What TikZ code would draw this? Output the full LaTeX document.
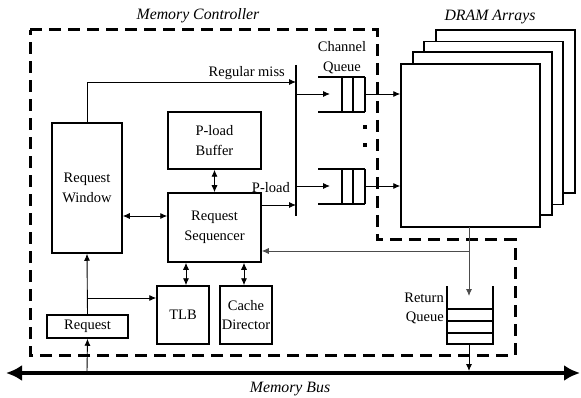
\documentclass[tikz,border=0pt]{standalone}
\usepackage{fontspec}
\setmainfont{Liberation Serif}
\usetikzlibrary{arrows.meta}
\begin{document}
\begin{tikzpicture}[x=1pt,y=-1pt,
  txt/.style={inner sep=0pt,font=\fontsize{14.5}{19.5}\selectfont},
  ttl/.style={inner sep=0pt,font=\fontsize{15.8}{19}\selectfont\itshape},
  box/.style={draw,line width=1.5pt,inner sep=0pt,align=center,font=\fontsize{14.5}{19.5}\selectfont},
  shape line/.style={line width=1.5pt},
  conn/.style={line width=0.9pt,-{Latex[length=7pt,width=6pt]}},
  dconn/.style={line width=0.9pt,{Latex[length=7pt,width=6pt]}-{Latex[length=7pt,width=6pt]}},
  graypath/.style={line width=0.9pt,draw=black!70},
  border/.style={line width=3pt,dash pattern=on 12pt off 7pt},
  bus/.style={line width=4pt,{Latex[length=16pt,width=16pt]}-{Latex[length=16pt,width=16pt]}},
  dram/.style={draw,line width=1.5pt,fill=white,minimum width=139pt,minimum height=163pt,inner sep=0pt},
]
\useasboundingbox (0,0) rectangle (581,398);

% controller outline
\draw[border] (30,30) -- (377,30) -- (377,240) -- (515,240) -- (515,355) -- (30,355) -- cycle;
\node[ttl] (mctitle) at (198,16) {Memory Controller};

% DRAM arrays, back to front
\node[ttl] (dramtitle) at (490,17) {DRAM Arrays};
\node[dram] (dram4) at (505.5,111.5) {};
\node[dram] (dram3) at (493.5,123) {};
\node[dram] (dram2) at (482.5,133.5) {};
\node[dram] (dram1) at (470.5,145.5) {};

% controller blocks
\node[box,minimum width=70pt,minimum height=130pt] (win) at (87,188) {Request\\Window};
\node[box,minimum width=93pt,minimum height=57pt] (pbuf) at (214.5,140.5) {P-load\\Buffer};
\node[box,minimum width=93pt,minimum height=69pt] (seq) at (214.5,227.5) {Request\\Sequencer};
\node[box,minimum width=52pt,minimum height=58pt] (tlb) at (183,315) {TLB};
\node[box,minimum width=52pt,minimum height=58pt] (cache) at (246,315) {Cache\\Director};
\node[box,minimum width=81pt,minimum height=23pt] (req) at (87.5,326.5) {Request};

% selector bar
\coordinate (bartop) at (296,65);
\coordinate (barbot) at (296,216);
\draw[shape line] (bartop) -- (barbot);

% channel queues
\foreach \y/\n in {77/q1,169/q2}{
  \draw[shape line] (318,\y) -- (365,\y) (318,\y+35) -- (365,\y+35)
    (342,\y) -- (342,\y+35) (353,\y) -- (353,\y+35) (365,\y) -- (365,\y+35);
  \coordinate (\n in) at (330,\y+17);
  \coordinate (\n out) at (365,\y+17);
  \coordinate (\n bar) at (296,\y+17);
}
\draw[conn] (q1bar) -- (q1in);
\draw[conn] (q2bar) -- (q2in);
\draw[conn] (q1out) -- (dram1.west |- q1out);
\draw[conn] (q2out) -- (dram1.west |- q2out);
\fill (363,125) rectangle (367,129);
\fill (363,143) rectangle (367,147);
\node[txt,align=center] (cqlabel) at (342,57.5) {Channel\\Queue};

% return queue
\draw[shape line] (447,286) -- (447,344) -- (493,344) -- (493,286)
  (447,309) -- (493,309) (447,321) -- (493,321) (447,333) -- (493,333);
\coordinate (rqtop) at (469,296);
\coordinate (rqbot) at (469,344);
\node[txt,align=right,anchor=east] (rqlabel) at (444,308.5) {Return\\Queue};

% memory bus
\coordinate (busl) at (6,373);
\coordinate (busr) at (580,373);
\draw[bus] (busl) -- (busr);
\node[ttl] (buslabel) at (290,389) {Memory Bus};

% connections
\coordinate (rmturn) at (87,82);
\coordinate (rmend) at (296,82);
\draw[conn] (win.north) -- (rmturn) -- (rmend);
\node[txt,anchor=east] (rmlabel) at (285,73) {Regular miss};
\coordinate (plend) at (296,205);
\draw[conn] (seq.east |- plend) -- (plend);
\node[txt,anchor=east] (pllabel) at (290,188) {P-load};

\draw[dconn] (pbuf.south) -- (seq.north);
\draw[dconn] (win.east |- 0,216) -- (seq.west |- 0,216);
\draw[dconn] (seq.south -| tlb.north) ++(3,0) coordinate (a1) (a1) -- (a1 |- tlb.north);
\draw[dconn] (seq.south -| cache.north) ++(-2,0) coordinate (a2) (a2) -- (a2 |- cache.north);

\coordinate (dram bot) at (469,227);
\coordinate (retsplit) at (469,251);
\draw[graypath,-{Latex[length=7pt,width=6pt]}] (dram bot) -- (rqtop);
\draw[graypath,-{Latex[length=7pt,width=6pt]}] (retsplit) -- (seq.east |- retsplit);
\draw[conn] (rqbot) -- (469,371);

\coordinate (tlbsplit) at (87,298);
\draw[conn] (req.north) -- (win.south);
\draw[conn] (tlbsplit) -- (tlb.west |- tlbsplit);
\draw[conn] (87,371) -- (req.south);
\end{tikzpicture}
\end{document}
